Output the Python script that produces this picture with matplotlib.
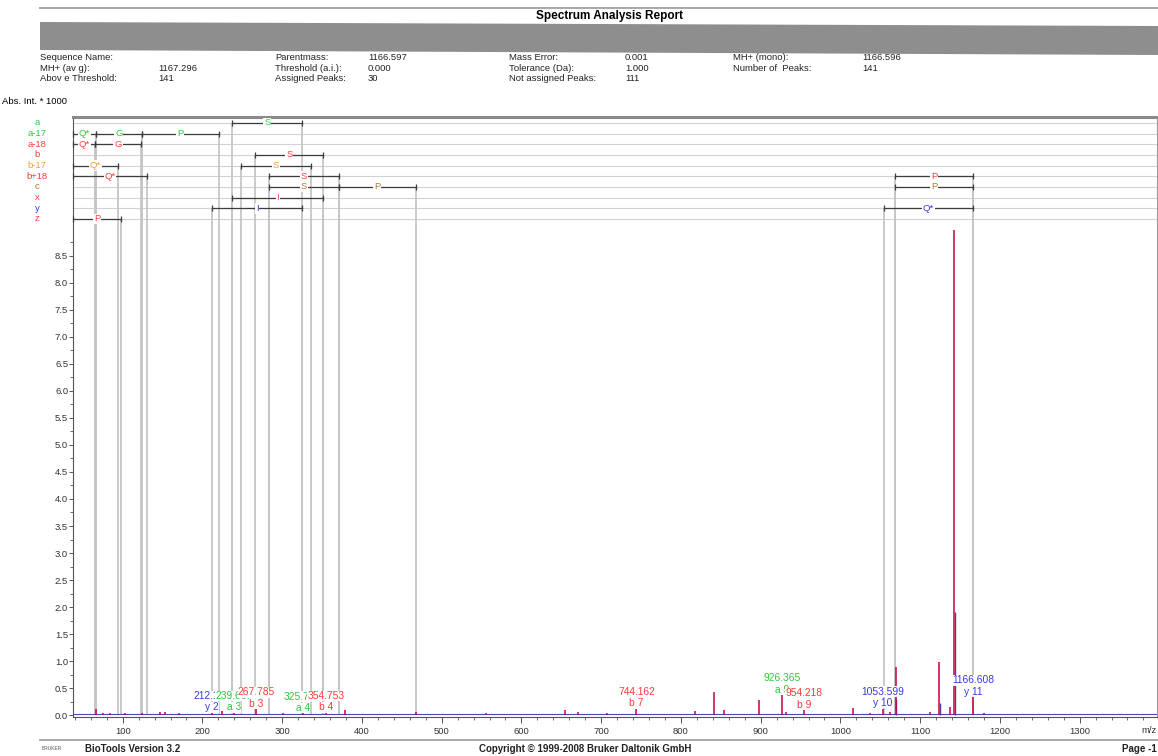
import matplotlib
matplotlib.use("Agg")
import matplotlib.pyplot as plt
from matplotlib.patches import Polygon
from matplotlib.lines import Line2D

plt.rcParams["font.family"] = ["Liberation Sans", "DejaVu Sans"]

# ---- data ----
header_rows = [
    ["Sequence Name:", "", "Parentmass:", "1166.597", "Mass Error:", "0.001", "MH+ (mono):", "1166.596"],
    ["MH+ (av g):", "1167.296", "Threshold (a.i.):", "0.000", "Tolerance (Da):", "1.000", "Number of  Peaks:", "141"],
    ["Abov e Threshold:", "141", "Assigned Peaks:", "30", "Not assigned Peaks:", "111", "", ""],
]

ion_series = ["a", "a-17", "a-18", "b", "b-17", "b+18", "c", "x", "y", "z"]
ion_colors = ["#2ec83a", "#2ec83a", "#ff3b3b", "#ff3b3b", "#f5a030",
              "#ff3b3b", "#b07a30", "#ff3b3b", "#3a3ae0", "#ff3b3b"]

# fragment ladder: (series, start m/z, end m/z, residue); None = runs off the left edge
ladder = [
    ("a", 237.5, 325.3, "S"),
    ("a-17", None, 66.6, "Q*"), ("a-17", 66.6, 123.6, "G"), ("a-17", 123.6, 220.8, "P"),
    ("a-18", None, 65.6, "Q*"), ("a-18", 65.6, 122.6, "G"),
    ("b", 266.0, 351.8, "S"),
    ("b-17", None, 94.2, "Q*"), ("b-17", 248.8, 336.2, "S"),
    ("b+18", None, 130.5, "Q*"), ("b+18", 283.8, 370.9, "S"), ("b+18", 1068.5, 1166.6, "P"),
    ("c", 283.8, 370.9, "S"), ("c", 370.9, 467.8, "P"), ("c", 1068.5, 1166.6, "P"),
    ("x", 237.5, 351.8, "I"),
    ("y", 212.0, 325.3, "I"), ("y", 1054.3, 1166.6, "Q*"),
    ("z", None, 97.9, "P"),
]

# centroid peaks (m/z, abs. int. / 1000)
peak_mz = [66.6, 75, 84, 103, 124, 147, 153, 170, 212.1, 224, 239.6, 267.8, 301,
           325.7, 354.8, 378.8, 467.5, 556, 654.7, 671, 707, 744.2, 818, 841.5,
           853.9, 897.9, 926.4, 932, 954.2, 1015.4, 1037, 1053.6, 1062, 1069.4,
           1112, 1123.6, 1137.5, 1142.8, 1166.6, 1180]
peak_int = [0.12, 0.03, 0.04, 0.03, 0.03, 0.05, 0.06, 0.03, 0.04, 0.08, 0.04, 0.11, 0.03,
            0.03, 0.04, 0.10, 0.06, 0.04, 0.10, 0.05, 0.04, 0.12, 0.07, 0.42,
            0.09, 0.27, 0.37, 0.06, 0.09, 0.13, 0.04, 0.12, 0.05, 0.89,
            0.05, 0.99, 0.15, 8.98, 0.33, 0.03]

# profile maxima next to the centroids
profile_mz = [1070.2, 1124.6, 1144.2]
profile_int = [0.30, 0.22, 1.90]

# annotated peaks (y 2, a 3 and a 4 values are partly covered by the next label, as in the report)
label_mz = [212.1, 239.6, 267.8, 325.7, 354.8, 744.2, 926.4, 954.2, 1053.6, 1166.6]
label_text = ["212.129", "239.669", "267.785", "325.760", "354.753", "744.162",
              "926.365", "954.218", "1053.599", "1166.608"]
label_ion = ["y 2", "a 3", "b 3", "a 4", "b 4", "b 7", "a 9", "b 9", "y 10", "y 11"]
label_color = ["#3a3ae0", "#2ec83a", "#ff3b3b", "#2ec83a", "#ff3b3b", "#ff3b3b",
               "#2ec83a", "#ff3b3b", "#3a3ae0", "#3a3ae0"]

x_ticks = list(range(100, 1301, 100))
y_ticks = [i * 0.5 for i in range(18)]

# ---- page ----
W, H = 1158, 756
fig = plt.figure(figsize=(W / 100, H / 100), dpi=100)


def fx(px):
    return px / W


def fy(py):
    return 1 - py / H


fig.add_artist(Line2D([fx(40), 1], [fy(8), fy(8)], color="#a8a8a8", lw=1.4))
fig.text(fx(610), fy(16), "Spectrum Analysis Report", ha="center", va="center",
         fontsize=8.5, fontweight="bold")

col_x = [40, 158, 275, 368, 509, 625, 733, 862]
for r, row in enumerate(header_rows):
    for c, txt in enumerate(row):
        fig.text(fx(col_x[c]), fy(58 + r * 10.3), txt, ha="left", va="center",
                 fontsize=6.8, color="#222222")

band = Polygon([(fx(40), fy(22)), (fx(1158), fy(26)), (fx(1158), fy(55)), (fx(40), fy(50))],
               closed=True, transform=fig.transFigure, facecolor="#8e8e8e", edgecolor="none")
fig.add_artist(band)

fig.text(fx(2), fy(101), "Abs. Int. * 1000", ha="left", va="center", fontsize=6.8)

# ---- spectrum axes ----
ax = fig.add_axes([fx(73), fy(717), fx(1157) - fx(73), fy(117) - fy(717)])
x_lo, x_hi = 37.7, 1397
ax.set_xlim(x_lo, x_hi)
ax.set_ylim(-0.037, 11.074)

for side, sp in ax.spines.items():
    sp.set_color("#555555")
    sp.set_linewidth(0.8)
ax.spines["top"].set_color("#8a8a8a")
ax.spines["top"].set_linewidth(2.2)
ax.spines["right"].set_color("#9a9a9a")

ax.set_xticks(x_ticks)
ax.set_xticklabels([str(v) for v in x_ticks])
ax.set_xticks(list(range(40, 1397, 20)), minor=True)
ax.set_yticks(y_ticks)
ax.set_yticklabels([f"{v:.1f}" for v in y_ticks])
ax.set_yticks([i * 0.25 for i in range(36)], minor=True)
ax.tick_params(axis="both", which="major", length=4, width=0.7, color="#555555",
               labelsize=6.8, labelcolor="#333333")
ax.tick_params(axis="x", which="major", pad=3)
ax.tick_params(axis="y", which="major", length=3, pad=0.5)
ax.tick_params(axis="both", which="minor", length=2, width=0.6, color="#555555")
ax.text(1.0, -0.022, "m/z", transform=ax.transAxes, ha="right", va="center",
        fontsize=6.8, color="#333333", clip_on=False)

# ladder rows
row_top, row_step = 10.963, 0.1975
row_y = {s: row_top - i * row_step for i, s in enumerate(ion_series)}
row_col = dict(zip(ion_series, ion_colors))
for s in ion_series:
    ax.hlines(row_y[s], x_lo, x_hi, color="#d2d2d2", lw=0.8, zorder=1)
    ax.text(-0.033, row_y[s], s, transform=ax.get_yaxis_transform(), ha="center",
            va="center", fontsize=6.8, color=row_col[s], clip_on=False)

for s, a, b, res in ladder:
    y = row_y[s]
    start = x_lo if a is None else a
    for e in (a, b):
        if e is not None:
            ax.vlines(e, 0, y, color="#c6c6c6", lw=1.3, zorder=1.2)
    ax.plot([start, b], [y, y], color="#3c3c3c", lw=0.9, zorder=3)
    ax.plot([start, b], [y, y], ls="none", marker="|", ms=4.5, mew=0.9,
            color="#3c3c3c", zorder=3, clip_on=False)
    ax.text((start + b) / 2, y, res, ha="center", va="center", fontsize=6.8,
            color=row_col[s], zorder=4,
            bbox=dict(facecolor="white", edgecolor="none", pad=0.6))

# spectrum
ax.axhline(0.012, color="#4646c8", lw=0.8, zorder=1.5)
ax.vlines(profile_mz, 0, profile_int, color="#5a3aa0", lw=1.0, zorder=2)
ax.vlines(peak_mz, 0, peak_int, color="#c8003c", lw=1.1, zorder=2.1)

for i, (mz, txt, ion, col) in enumerate(zip(label_mz, label_text, label_ion, label_color)):
    pk = max(v for m, v in zip(peak_mz, peak_int) if abs(m - mz) < 1.5)
    box = dict(facecolor="white", edgecolor="none", pad=0.2)
    ax.text(mz, pk + 0.31, txt, ha="center", va="center", fontsize=7.4, color=col,
            zorder=10 + i, bbox=box)
    ax.text(mz, pk + 0.1, ion, ha="center", va="center", fontsize=7.4, color=col,
            zorder=10 + i, bbox=box)

# ---- footer ----
fig.add_artist(Line2D([fx(40), 1], [fy(740), fy(740)], color="#9a9a9a", lw=1.2))
fig.text(fx(52), fy(749), "BRUKER", ha="center", va="center", fontsize=3.5, color="#555555")
fig.text(fx(85), fy(749), "BioTools Version 3.2", ha="left", va="center",
         fontsize=7, fontweight="bold", color="#222222")
fig.text(fx(585), fy(749), "Copyright \u00a9 1999-2008 Bruker Daltonik GmbH", ha="center",
         va="center", fontsize=7, fontweight="bold", color="#222222")
fig.text(fx(1122), fy(749), "Page -1", ha="left", va="center",
         fontsize=7, fontweight="bold", color="#222222")

fig.savefig("out.png", dpi=100)
